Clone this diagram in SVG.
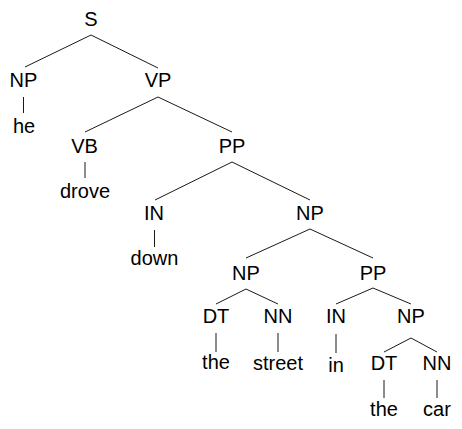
<svg xmlns="http://www.w3.org/2000/svg" width="462" height="429" viewBox="0 0 462 429">
<style>
text{font-family:"Liberation Sans",Arial,sans-serif;font-size:20px;fill:#000;text-anchor:middle}
.e line{stroke:#1a1a1a;stroke-width:1;fill:none}
</style>
<rect width="462" height="429" fill="#fff"/>
<g class="e" id="connectors">
<line x1="91" y1="35" x2="25" y2="67"/>
<line x1="91" y1="35" x2="158" y2="68"/>
<line x1="23.5" y1="97" x2="23.5" y2="113"/>
<line x1="158" y1="97" x2="85" y2="132"/>
<line x1="158" y1="97" x2="232" y2="132"/>
<line x1="85" y1="162" x2="85" y2="178"/>
<line x1="232" y1="162" x2="155" y2="200"/>
<line x1="232" y1="162" x2="310" y2="200"/>
<line x1="154.5" y1="230" x2="154.5" y2="247"/>
<line x1="310" y1="229" x2="246" y2="258"/>
<line x1="310" y1="229" x2="373" y2="258"/>
<line x1="246" y1="289" x2="216" y2="304"/>
<line x1="246" y1="289" x2="278" y2="304"/>
<line x1="216" y1="333" x2="216" y2="352"/>
<line x1="278" y1="333" x2="278" y2="352"/>
<line x1="373" y1="288" x2="336" y2="304"/>
<line x1="373" y1="288" x2="411" y2="304"/>
<line x1="336" y1="334" x2="336" y2="353"/>
<line x1="411" y1="338" x2="384" y2="352"/>
<line x1="411" y1="338" x2="437" y2="352"/>
<line x1="384" y1="380" x2="384" y2="398"/>
<line x1="437" y1="380" x2="437" y2="398"/>
</g>
<g id="n-S"><text x="91" y="25.5">S</text></g>
<g id="n-NP1"><text x="23.5" y="87">NP</text></g>
<g id="n-he"><text x="24" y="133">he</text></g>
<g id="n-VP"><text x="158" y="87">VP</text></g>
<g id="n-VB"><text x="84.5" y="153">VB</text></g>
<g id="n-drove"><text x="85" y="198">drove</text></g>
<g id="n-PP1"><text x="232" y="152.5">PP</text></g>
<g id="n-IN1"><text x="154" y="219.5">IN</text></g>
<g id="n-down"><text x="154.5" y="265">down</text></g>
<g id="n-NP2"><text x="310" y="219.5">NP</text></g>
<g id="n-NP3"><text x="246" y="280">NP</text></g>
<g id="n-PP2"><text x="373" y="280">PP</text></g>
<g id="n-DT1"><text x="216" y="323">DT</text></g>
<g id="n-NN1"><text x="278" y="323">NN</text></g>
<g id="n-the1"><text x="216" y="369">the</text></g>
<g id="n-street"><text x="278" y="370">street</text></g>
<g id="n-IN2"><text x="336" y="323">IN</text></g>
<g id="n-in"><text x="336" y="371.5">in</text></g>
<g id="n-NP4"><text x="411" y="323">NP</text></g>
<g id="n-DT2"><text x="384" y="370">DT</text></g>
<g id="n-NN2"><text x="437" y="370">NN</text></g>
<g id="n-the2"><text x="384" y="416">the</text></g>
<g id="n-car"><text x="437" y="416">car</text></g>
</svg>
